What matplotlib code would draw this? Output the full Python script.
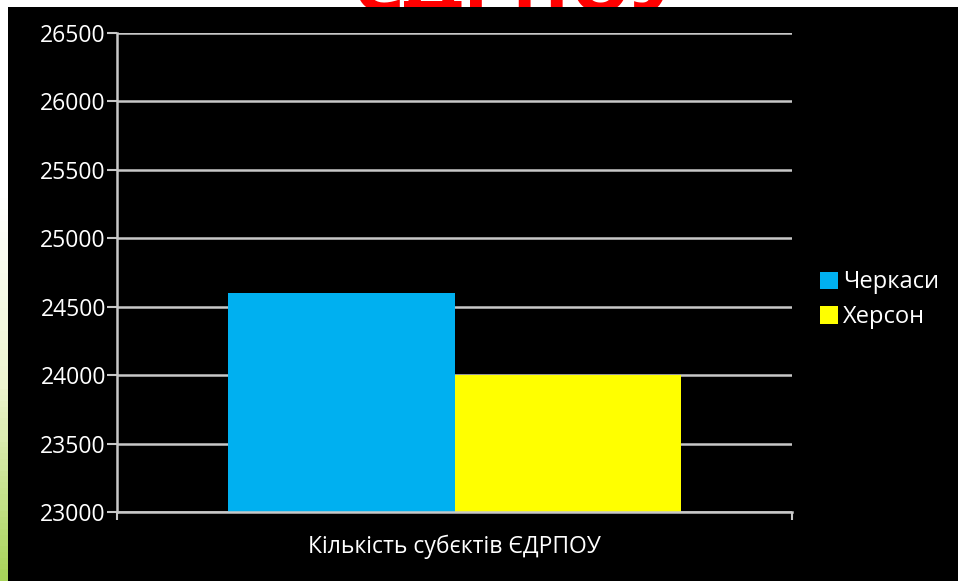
import numpy as np
import matplotlib.pyplot as plt
from matplotlib.colors import LinearSegmentedColormap
from matplotlib.patches import Rectangle

categories = ["Кількість субєктів ЄДРПОУ"]
series_names = ["Черкаси", "Херсон"]
series_values = [[24600], [24000]]
series_colors = ["#00B0F0", "#FFFF00"]
y_ticks = [23000, 23500, 24000, 24500, 25000, 25500, 26000, 26500]

plt.rcParams["font.family"] = ["Open Sans", "DejaVu Sans"]

fig = plt.figure(figsize=(9.58, 5.81), dpi=100, facecolor="white")

# slide background strip on the left edge (white fading to light green)
strip = fig.add_axes([0, 0, 8 / 958, 1], zorder=-3)
strip_cmap = LinearSegmentedColormap.from_list("strip", ["white", "white", "#eef5d0", "#a8d45a"])
strip.imshow(np.linspace(0, 1, 100).reshape(-1, 1), aspect="auto", cmap=strip_cmap)
strip.axis("off")

# cut-off slide title behind the black chart panel
fig.text(0.540, 1 - 11 / 581, "ЄДРПОУ", color="red", fontsize=56, fontweight="bold",
         ha="center", va="baseline", zorder=-2)
fig.patches.append(Rectangle((8 / 958, 0), 1, 1 - 7 / 581, transform=fig.transFigure,
                             facecolor="black", edgecolor="none", zorder=-1))

ax = fig.add_axes([117 / 958, 1 - 512 / 581, 675 / 958, 479 / 581])
ax.set_facecolor("black")

width = 0.335
offsets = [-width / 2, width / 2]
for name, vals, color, off in zip(series_names, series_values, series_colors, offsets):
    ax.bar([i + off for i in range(len(categories))], [v - y_ticks[0] for v in vals],
           bottom=y_ticks[0], width=width, color=color, label=name, zorder=3)

ax.set_ylim(y_ticks[0], y_ticks[-1])
ax.set_xlim(-0.5, len(categories) - 0.5)
ax.set_yticks(y_ticks)
ax.grid(axis="y", color="#c8c8c8", linewidth=1.8, zorder=1)
ax.set_xticks(range(len(categories)))
ax.set_xticklabels(categories)
ax.set_xticks([-0.5, len(categories) - 0.5], minor=True)
ax.tick_params(axis="x", which="major", length=0, pad=16, labelsize=16.5, labelcolor="white")
ax.tick_params(axis="x", which="minor", length=6, width=1.5, color="#c8c8c8", direction="out")
ax.tick_params(axis="y", length=7, width=1.5, color="#c8c8c8", labelsize=16.5, labelcolor="white", pad=1)

for side in ["top", "right"]:
    ax.spines[side].set_visible(False)
for side in ["left", "bottom"]:
    ax.spines[side].set_color("#c8c8c8")
    ax.spines[side].set_linewidth(1.8)
    ax.spines[side].set_zorder(4)

leg = ax.legend(loc="center left", bbox_to_anchor=(1.028, 0.443), frameon=False,
                fontsize=17, labelcolor="white", handlelength=0.75, handleheight=0.75,
                handletextpad=0.2, borderaxespad=0, labelspacing=0.45)

fig.savefig("out.png", dpi=100, facecolor=fig.get_facecolor())
